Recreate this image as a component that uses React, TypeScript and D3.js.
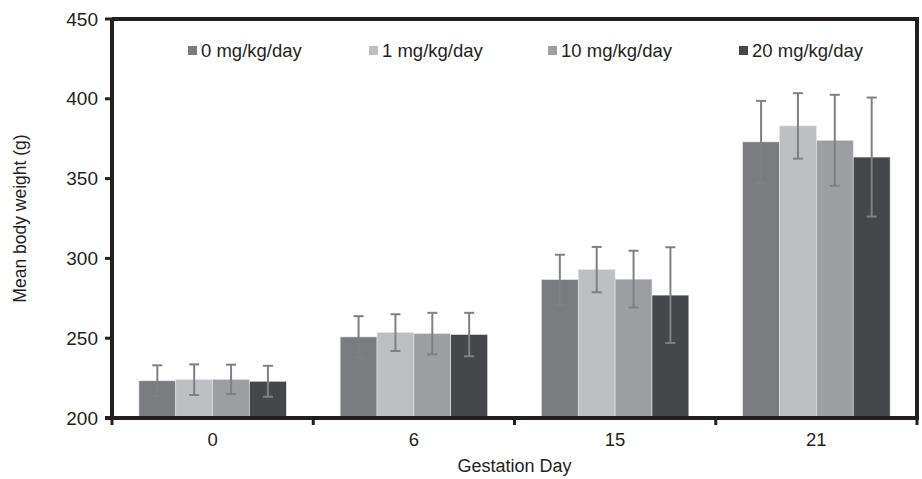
import React from "react";
import * as d3 from "d3";

const days = ["0", "6", "15", "21"];
const seriesNames = ["0 mg/kg/day", "1 mg/kg/day", "10 mg/kg/day", "20 mg/kg/day"];
const seriesColors = ["#7b7c80", "#bebfc3", "#9d9ea2", "#46474a"];
// means per series across days
const means0 = [223.3, 250.8, 286.7, 373];
const means1 = [224, 253.5, 293, 383];
const means10 = [224.2, 252.9, 287, 374];
const means20 = [223, 252.3, 277, 363.5];
// SD per series across days
const sd0 = [9.7, 13, 15.6, 25.7];
const sd1 = [9.6, 11.5, 14.2, 20.5];
const sd10 = [9.2, 13, 17.8, 28.5];
const sd20 = [9.7, 13.6, 30, 37.3];
const yTicks = [200, 250, 300, 350, 400, 450];

const means = [means0, means1, means10, means20];
const sds = [sd0, sd1, sd10, sd20];

export default function App() {
  const W = 922, H = 479;
  const left = 112, right = 917, top = 19, bottom = 418;
  const font = "'Liberation Sans', Arial, Helvetica, sans-serif";
  const x = d3.scaleBand<string>().domain(days).range([left, right]).paddingInner(0).paddingOuter(0);
  const inner = d3.scaleBand<string>().domain(seriesNames).range([0, x.bandwidth()]).paddingOuter(0.73).paddingInner(0);
  const y = d3.scaleLinear().domain([200, 450]).range([bottom, top]);
  const legendX = [188, 369, 548, 739];
  const boundaries = [...days.map((d) => x(d)!), right];

  return (
    <svg width={W} height={H} style={{ position: "absolute", left: 0, top: 0 }}>
      <rect width={W} height={H} fill="#fff" />
      {days.map((d, di) =>
        seriesNames.map((s, si) => {
          const bx = x(d)! + inner(s)!;
          const v = means[si][di];
          return (
            <rect key={d + s} x={bx} y={y(v)} width={inner.bandwidth()} height={bottom - y(v)}
              fill={seriesColors[si]} stroke="#e4e4e6" strokeWidth={0.6} />
          );
        })
      )}
      {days.map((d, di) =>
        seriesNames.map((s, si) => {
          const cx = x(d)! + inner(s)! + inner.bandwidth() / 2;
          const v = means[si][di];
          const e = sds[si][di];
          const c = "#7f8083";
          return (
            <g key={"e" + d + s} stroke={c} strokeWidth={2}>
              <line x1={cx} x2={cx} y1={y(v + e)} y2={y(v - e)} />
              <line x1={cx - 5} x2={cx + 5} y1={y(v + e)} y2={y(v + e)} />
              <line x1={cx - 5} x2={cx + 5} y1={y(v - e)} y2={y(v - e)} />
            </g>
          );
        })
      )}
      {/* frame */}
      <g stroke="#231f20" strokeWidth={4} fill="none">
        <line x1={left} x2={right + 2} y1={top} y2={top} />
        <line x1={right} x2={right} y1={top} y2={bottom} />
        <line x1={left - 7} x2={right + 2} y1={bottom} y2={bottom} />
        <line x1={left} x2={left} y1={top} y2={bottom + 2} />
      </g>
      {/* y ticks */}
      {yTicks.map((t) => (
        <g key={t}>
          <line x1={left - 7} x2={left} y1={y(t)} y2={y(t)} stroke="#231f20" strokeWidth={3} />
          <text x={left - 14} y={y(t)} dy="0.35em" textAnchor="end" fontFamily={font} fontSize={19} fill="#231f20">{t}</text>
        </g>
      ))}
      {/* x ticks */}
      {boundaries.map((b, i) => (
        <line key={i} x1={b} x2={b} y1={bottom} y2={bottom + 7} stroke="#231f20" strokeWidth={3} />
      ))}
      {days.map((d) => (
        <text key={d} x={x(d)! + x.bandwidth() / 2} y={446} textAnchor="middle" fontFamily={font} fontSize={18.5} fill="#231f20">{d}</text>
      ))}
      <text x={(left + right) / 2} y={472} textAnchor="middle" fontFamily={font} fontSize={18} fill="#231f20">Gestation Day</text>
      <text transform={`translate(26,${(top + bottom) / 2}) rotate(-90)`} textAnchor="middle" fontFamily={font} fontSize={17.5} fill="#231f20">Mean body weight (g)</text>
      {/* legend */}
      {seriesNames.map((s, i) => (
        <g key={s}>
          <rect x={legendX[i]} y={46} width={9} height={9} fill={seriesColors[i]} />
          <text x={legendX[i] + 13} y={50.5} dy="0.35em" fontFamily={font} fontSize={18.5} fill="#231f20">{s}</text>
        </g>
      ))}
    </svg>
  );
}
